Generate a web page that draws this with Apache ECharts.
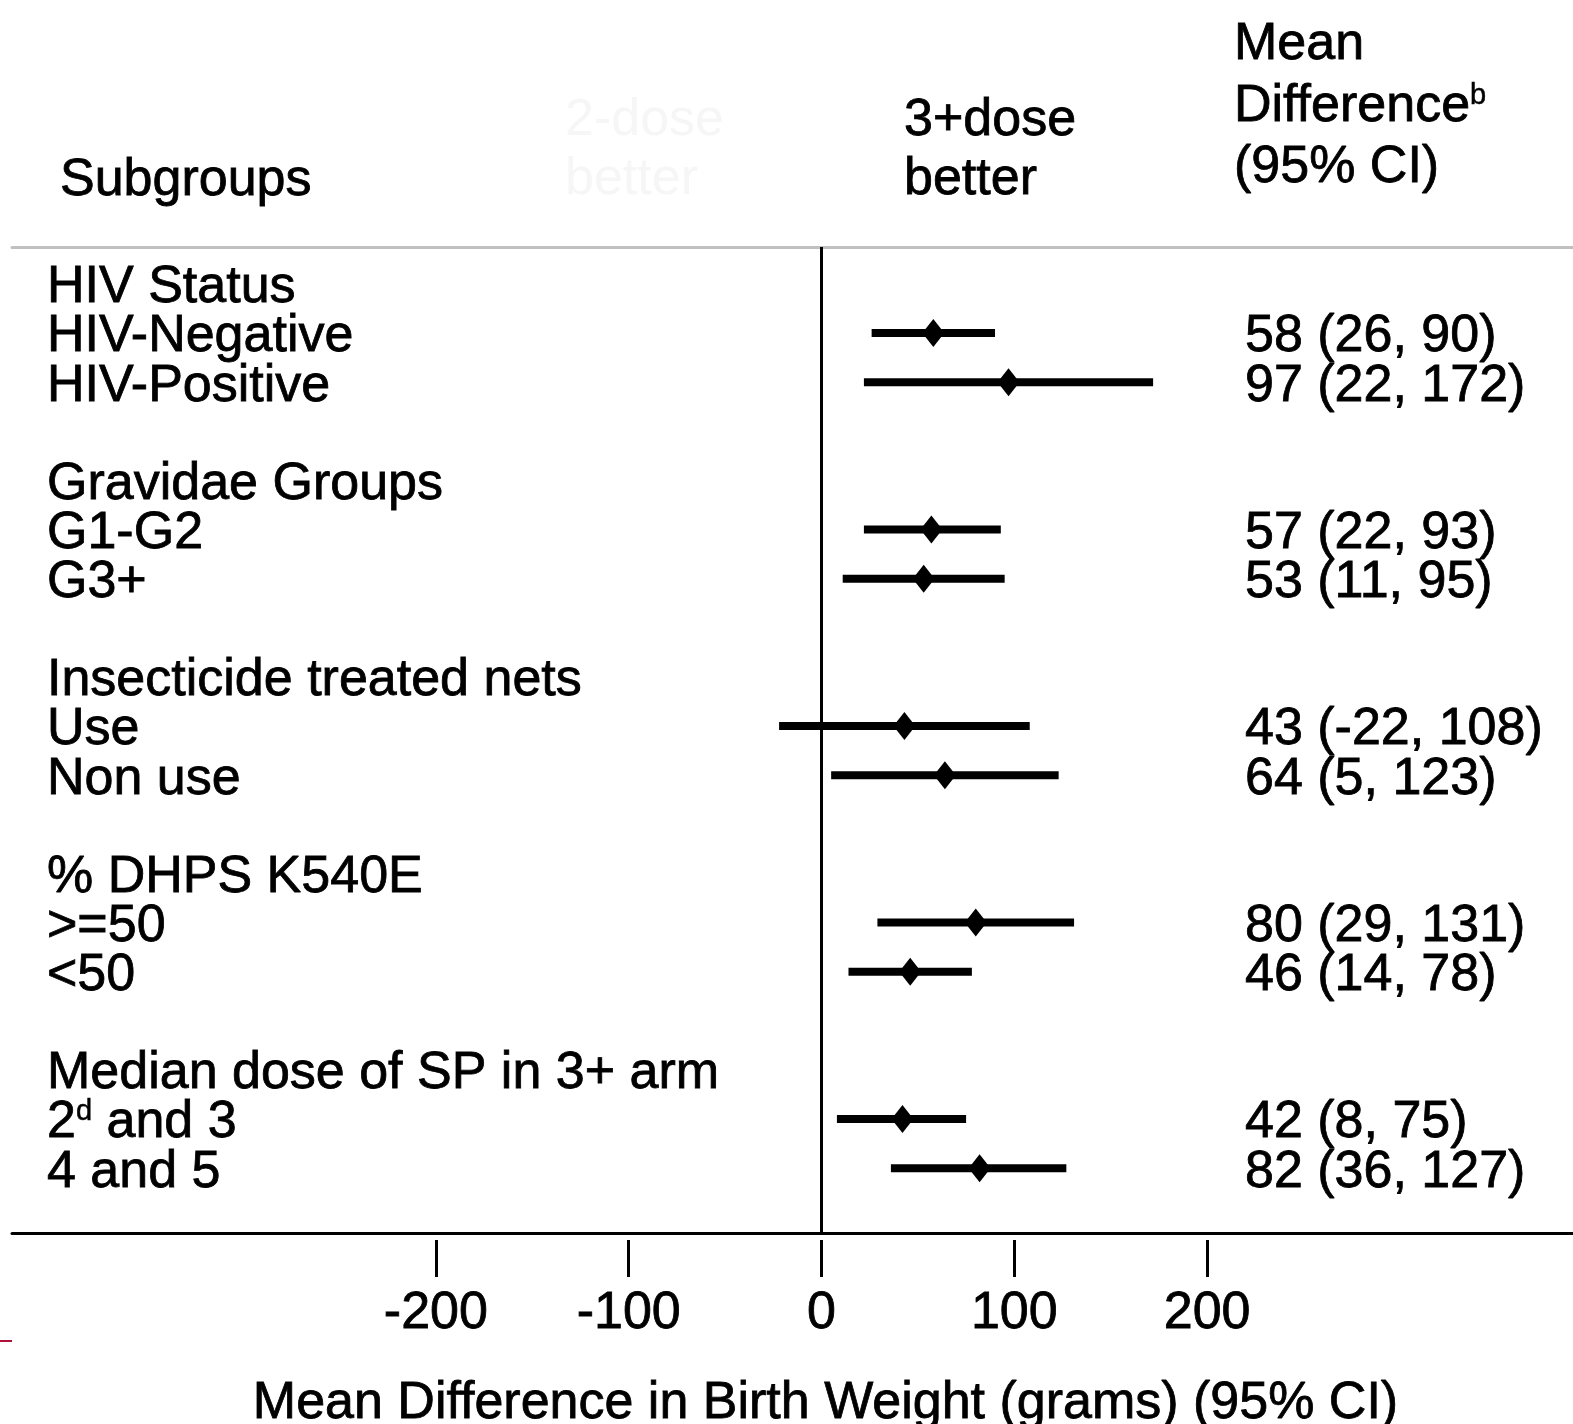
<!DOCTYPE html>
<html>
<head>
<meta charset="utf-8">
<script src="https://cdn.jsdelivr.net/npm/echarts@6/dist/echarts.min.js"></script>
<style>
  html, body { margin: 0; padding: 0; background: #fff; }
  #chart { width: 1573px; height: 1424px; }
</style>
</head>
<body>
<div id="chart"></div>
<script>
// ---------- data ----------
const groupNames = ['HIV Status', 'Gravidae Groups', 'Insecticide treated nets', '% DHPS K540E', 'Median dose of SP in 3+ arm'];
const subgroupNames = ['HIV-Negative', 'HIV-Positive', 'G1-G2', 'G3+', 'Use', 'Non use', '>=50', '<50', '2{sup|d} and 3', '4 and 5'];
const meanDiff = [58, 97, 57, 53, 43, 64, 80, 46, 42, 82];
const ciLow   = [26, 22, 22, 11, -22, 5, 29, 14, 8, 36];
const ciHigh  = [90, 172, 93, 95, 108, 123, 131, 78, 75, 127];
const xTicks  = [-200, -100, 0, 100, 200];
const axisTitle = 'Mean Difference in Birth Weight (grams) (95% CI)';

// ---------- layout helpers ----------
const FONT = '"Liberation Sans", Arial, sans-serif';
const FS = 52;
const TB = { textBorderColor: '#000', textBorderWidth: 0.8 };
const PX_PER_UNIT = 1.928, ZERO_PX = 821.5, GRID_L = 12, GRID_R_PX = 1573;
const XMIN = (GRID_L - ZERO_PX) / PX_PER_UNIT;
const XMAX = (GRID_R_PX - ZERO_PX) / PX_PER_UNIT;
const LEFT_LABEL_X = (47 - ZERO_PX) / PX_PER_UNIT;
const RIGHT_LABEL_X = (1245 - ZERO_PX) / PX_PER_UNIT;
const ROW0 = 284, ROW_STEP = 49.12, GRID_TOP = 247, GRID_BOTTOM_PX = 1233;
const YMIN = (GRID_TOP - ROW0) / ROW_STEP;
const YMAX = (GRID_BOTTOM_PX - ROW0) / ROW_STEP;

const groupRow = g => 4 * g;
const subRow = i => 4 * Math.floor(i / 2) + 1 + (i % 2);

const ciData = meanDiff.map((m, i) => [ciLow[i], ciHigh[i], subRow(i)]);
const meanData = meanDiff.map((m, i) => [m, subRow(i)]);
const leftLabels = [];
groupNames.forEach((g, k) => leftLabels.push([LEFT_LABEL_X, groupRow(k), g]));
subgroupNames.forEach((s, i) => leftLabels.push([LEFT_LABEL_X, subRow(i), s]));
const rightLabels = meanDiff.map((m, i) => [RIGHT_LABEL_X, subRow(i), m + ' (' + ciLow[i] + ', ' + ciHigh[i] + ')']);

const supStyle = { fontSize: 29, fontFamily: FONT, color: '#000', verticalAlign: 'top', padding: [0, 0, 14, 0], textBorderColor: '#000', textBorderWidth: 0.5 };

const txt = (text, x, y, fill) => ({
  type: 'text', silent: true,
  style: Object.assign({ text: text, x: x, y: y, fill: fill || '#000', fontSize: FS, fontFamily: FONT, verticalAlign: 'middle' },
    fill ? {} : { stroke: '#000', lineWidth: 0.8 })
});

const chart = echarts.init(document.getElementById('chart'), null, { renderer: 'canvas' });
const baseX = { type: 'value', min: XMIN, max: XMAX, splitLine: { show: false } };

const diffText = {
  type: 'text', silent: true,
  style: {
    text: '{n|Difference}{sup|b}', x: 1234, y: 107, fontSize: FS, fontFamily: FONT, verticalAlign: 'middle',
    rich: { n: { fontSize: FS, fontFamily: FONT, fill: '#000', stroke: '#000', lineWidth: 0.8 },
            sup: { fontSize: 29, fontFamily: FONT, fill: '#000', stroke: '#000', lineWidth: 0.5, verticalAlign: 'top', padding: [0, 0, 14, 0] } }
  }
};

chart.setOption({
  animation: false,
  backgroundColor: '#fff',
  grid: { left: GRID_L, right: 0, top: GRID_TOP, bottom: 1424 - GRID_BOTTOM_PX, containLabel: false, outerBoundsMode: 'none' },
  xAxis: [
    Object.assign({}, baseX, {
      position: 'bottom', offset: 7,
      axisLine: { show: false, onZero: false },
      axisTick: { show: true, customValues: xTicks, length: 37, lineStyle: { color: '#000', width: 3 } },
      axisLabel: Object.assign({ show: true, customValues: xTicks, margin: 48, color: '#000', fontSize: FS, fontFamily: FONT }, TB),
      name: axisTitle, nameLocation: 'middle', nameGap: 138,
      nameTextStyle: Object.assign({ color: '#000', fontSize: FS, fontFamily: FONT, padding: [0, 0, 0, 66] }, TB)
    }),
    Object.assign({}, baseX, {
      position: 'top',
      axisLine: { show: true, onZero: false, lineStyle: { color: '#c0c0c0', width: 3 } },
      axisTick: { show: false }, axisLabel: { show: false }
    }),
    Object.assign({}, baseX, {
      position: 'bottom', offset: 0,
      axisLine: { show: true, onZero: false, lineStyle: { color: '#000', width: 3 } },
      axisTick: { show: false }, axisLabel: { show: false }
    })
  ],
  yAxis: {
    type: 'value', inverse: true, min: YMIN, max: YMAX,
    show: false
  },
  graphic: [
    txt('Subgroups', 60, 181),
    txt('2-dose', 565, 121, '#f6f6f6'),
    txt('better', 565, 180, '#f6f6f6'),
    txt('3+dose', 904, 121),
    txt('better', 904, 180),
    txt('Mean', 1234, 45),
    diffText,
    txt('(95% CI)', 1234, 168),
    { type: 'line', silent: true, shape: { x1: 0, y1: 1341, x2: 12, y2: 1341 }, style: { stroke: '#b0103a', lineWidth: 2 } }
  ],
  series: [
    {
      type: 'custom', name: 'ci', xAxisIndex: 0, yAxisIndex: 0,
      data: ciData, encode: { x: [0, 1], y: 2 },
      renderItem: function (params, api) {
        const y = api.value(2);
        const p1 = api.coord([api.value(0), y]);
        const p2 = api.coord([api.value(1), y]);
        return { type: 'line', shape: { x1: p1[0], y1: p1[1], x2: p2[0], y2: p2[1] }, style: { stroke: '#000', lineWidth: 8 } };
      },
      z: 3
    },
    {
      type: 'scatter', name: 'mean', xAxisIndex: 0, yAxisIndex: 0,
      data: meanData, symbol: 'diamond', symbolSize: [22, 28],
      itemStyle: { color: '#000', opacity: 1 }, z: 4,
      markLine: {
        silent: true, symbol: 'none', label: { show: false },
        lineStyle: { color: '#000', width: 3, type: 'solid', opacity: 1 },
        data: [{ xAxis: 0 }]
      }
    },
    {
      type: 'scatter', name: 'leftLabels', xAxisIndex: 0, yAxisIndex: 0,
      data: leftLabels, symbolSize: 0, silent: true,
      itemStyle: { opacity: 1 },
      label: Object.assign({ show: true, position: 'right', distance: 0, offset: [0, 4], color: '#000', opacity: 1, fontSize: FS, fontFamily: FONT,
        formatter: p => p.data[2], rich: { sup: supStyle } }, TB)
    },
    {
      type: 'scatter', name: 'rightLabels', xAxisIndex: 0, yAxisIndex: 0,
      data: rightLabels, symbolSize: 0, silent: true,
      itemStyle: { opacity: 1 },
      label: Object.assign({ show: true, position: 'right', distance: 0, offset: [0, 4], color: '#000', opacity: 1, fontSize: FS, fontFamily: FONT,
        formatter: p => p.data[2] }, TB)
    }
  ]
});
</script>
</body>
</html>
